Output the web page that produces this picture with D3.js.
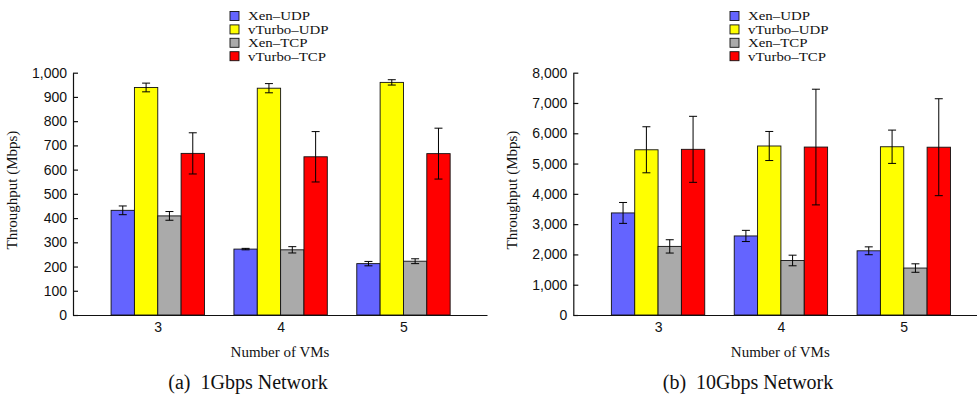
<!DOCTYPE html>
<html>
<head>
<meta charset="utf-8">
<script src="https://cdn.jsdelivr.net/npm/d3@7"></script>
<style>
  body { margin: 0; background: #fff; }
  svg { display: block; font-family: "Liberation Serif", "Times New Roman", serif; }
</style>
</head>
<body>
<svg id="chart" width="977" height="396"></svg>
<script>
// categories
const vms = [3, 4, 5];
const seriesNames = ["Xen\u2013UDP", "vTurbo\u2013UDP", "Xen\u2013TCP", "vTurbo\u2013TCP"];

// (a) 1Gbps network, means and error (+/-)
const xenUdp1G = [432, 272, 212];
const xenUdp1GErr = [18, 3, 9];
const vturboUdp1G = [939, 936, 960];
const vturboUdp1GErr = [18, 19, 11];
const xenTcp1G = [409, 269, 222];
const xenTcp1GErr = [18, 13, 10];
const vturboTcp1G = [667, 653, 666];
const vturboTcp1GErr = [85, 104, 105];

// (b) 10Gbps network
const xenUdp10G = [3370, 2610, 2120];
const xenUdp10GErr = [345, 185, 130];
const vturboUdp10G = [5455, 5580, 5555];
const vturboUdp10GErr = [760, 480, 550];
const xenTcp10G = [2265, 1800, 1550];
const xenTcp10GErr = [220, 175, 140];
const vturboTcp10G = [5470, 5545, 5540];
const vturboTcp10GErr = [1090, 1910, 1600];

// tick values
const yTicks1G = [0, 100, 200, 300, 400, 500, 600, 700, 800, 900, 1000];
const yTicks10G = [0, 1000, 2000, 3000, 4000, 5000, 6000, 7000, 8000];

const colors = ["#6464ff", "#ffff00", "#aaaaaa", "#ff0000"];
const barWidth = 0.19; // in x units

const svg = d3.select("#chart");

function drawPanel(opts) {
  const g = svg.append("g");
  const x = d3.scaleLinear().domain([2.31, 5.68]).range([opts.left, opts.left + 414]);
  const y = d3.scaleLinear().domain([0, opts.yMax]).range([315, 72.7]);

  // bars
  opts.means.forEach((vals, s) => {
    const errs = opts.errs[s];
    const off = (s - 2) * barWidth;
    g.selectAll(null)
      .data(vals)
      .enter().append("rect")
      .attr("x", (d, i) => x(vms[i] + off))
      .attr("y", d => y(d))
      .attr("width", (d, i) => x(vms[i] + off + barWidth) - x(vms[i] + off))
      .attr("height", d => y(0) - y(d))
      .attr("fill", colors[s])
      .attr("stroke", "#111")
      .attr("stroke-width", 0.9);

    // error bars
    const eb = g.selectAll(null)
      .data(vals.map((d, i) => ({ d, e: errs[i], cx: x(vms[i] + off + barWidth / 2) })))
      .enter().append("g")
      .attr("stroke", "#000")
      .attr("stroke-width", 1);
    eb.append("line")
      .attr("x1", d => d.cx).attr("x2", d => d.cx)
      .attr("y1", d => y(d.d - d.e)).attr("y2", d => y(d.d + d.e));
    eb.append("line")
      .attr("x1", d => d.cx - 4).attr("x2", d => d.cx + 4)
      .attr("y1", d => y(d.d - d.e)).attr("y2", d => y(d.d - d.e));
    eb.append("line")
      .attr("x1", d => d.cx - 4).attr("x2", d => d.cx + 4)
      .attr("y1", d => y(d.d + d.e)).attr("y2", d => y(d.d + d.e));
  });

  // axes
  const yAxis = d3.axisLeft(y)
    .tickValues(opts.yTicks)
    .tickFormat(d3.format(","))
    .tickSizeInner(-5)
    .tickSizeOuter(0)
    .tickPadding(6);
  const ya = g.append("g").attr("transform", `translate(${opts.left},0)`).call(yAxis);

  const xAxis = d3.axisBottom(x)
    .tickValues(vms)
    .tickFormat(d3.format("d"))
    .tickSize(0)
    .tickPadding(7);
  const xa = g.append("g").attr("transform", "translate(0,315)").call(xAxis);

  [ya, xa].forEach(a => {
    a.selectAll("text").attr("font-size", 14).attr("font-family", null).attr("fill", "#111");
    a.selectAll("path, line").attr("stroke", "#111").attr("stroke-width", 1.2);
  });

  // axis labels
  g.append("text")
    .attr("transform", `translate(${opts.left - 56},190) rotate(-90)`)
    .attr("text-anchor", "middle")
    .attr("font-size", 15)
    .attr("fill", "#111")
    .text("Throughput (Mbps)");

  g.append("text")
    .attr("x", opts.left + 207)
    .attr("y", 356.5)
    .attr("text-anchor", "middle")
    .attr("font-size", 15)
    .attr("fill", "#111")
    .text("Number of VMs");

  g.append("text")
    .attr("x", opts.captionX)
    .attr("y", 388.5)
    .attr("text-anchor", "middle")
    .attr("font-size", 20)
    .attr("fill", "#111")
    .style("white-space", "pre")
    .text(opts.caption);

  // legend (glyphs in the original are a bit wider than tall, stretch them)
  const lg = g.append("g").attr("transform", `translate(${opts.legendX},0)`);
  seriesNames.forEach((name, s) => {
    const cy = 16 + s * 13.4;
    lg.append("rect")
      .attr("x", 0).attr("y", cy - 4.5)
      .attr("width", 9).attr("height", 9)
      .attr("fill", colors[s])
      .attr("stroke", "#111")
      .attr("stroke-width", 0.9);
    lg.append("text")
      .attr("x", 18).attr("y", cy + 4.3)
      .attr("font-size", 12)
      .attr("fill", "#111")
      .text(name)
      .attr("lengthAdjust", "spacingAndGlyphs")
      .attr("textLength", function () { return this.getComputedTextLength() * 1.24; });
  });
}

drawPanel({
  left: 73,
  yMax: 1000,
  yTicks: yTicks1G,
  means: [xenUdp1G, vturboUdp1G, xenTcp1G, vturboTcp1G],
  errs: [xenUdp1GErr, vturboUdp1GErr, xenTcp1GErr, vturboTcp1GErr],
  caption: "(a)  1Gbps Network",
  captionX: 248,
  legendX: 230
});

drawPanel({
  left: 573.3,
  yMax: 8000,
  yTicks: yTicks10G,
  means: [xenUdp10G, vturboUdp10G, xenTcp10G, vturboTcp10G],
  errs: [xenUdp10GErr, vturboUdp10GErr, xenTcp10GErr, vturboTcp10GErr],
  caption: "(b)  10Gbps Network",
  captionX: 748,
  legendX: 730
});
</script>
</body>
</html>
